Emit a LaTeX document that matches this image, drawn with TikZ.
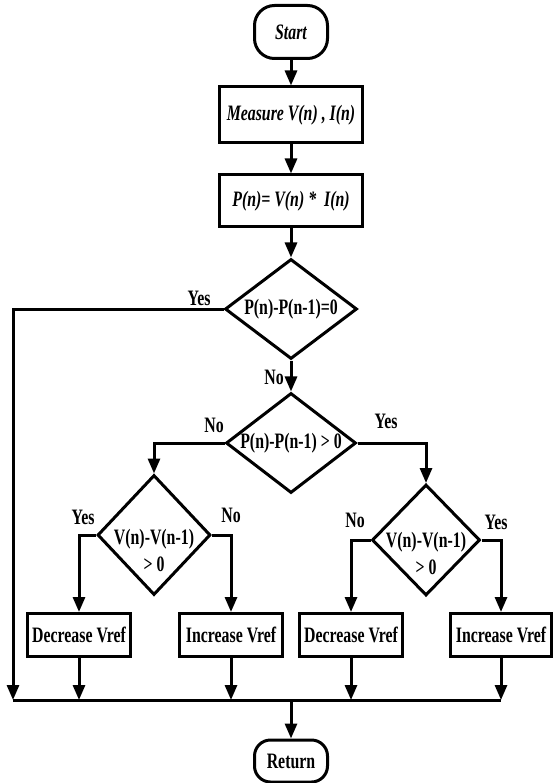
\documentclass[tikz,border=0pt]{standalone}
\usepackage{fontspec}
\setmainfont{Liberation Serif}[FakeStretch=0.72]
\usetikzlibrary{shapes.geometric,arrows.meta}

\tikzset{
  every node/.style={font=\fontsize{22}{27}\selectfont\bfseries},
  term/.style={draw, rounded corners=20pt, minimum width=73pt, minimum height=53pt, inner sep=0pt},
  proc/.style={draw, minimum width=143pt, inner sep=0pt},
  dec/.style={draw, diamond, aspect=1.3, inner sep=0pt},
  vbox/.style={draw, minimum width=103pt, minimum height=43pt, inner sep=0pt},
  lbl/.style={inner sep=0pt},
  arr/.style={-{Triangle[length=15pt,width=12pt]}}
}

\begin{document}
\begin{tikzpicture}[x=1pt,y=-1pt,line width=3pt]
\useasboundingbox (0,0) rectangle (553,783);
\node[term] (start) at (291,32) {\itshape Start};
\node[proc,minimum height=56pt] (meas) at (291,115) {\itshape Measure V(n) , I(n)};
\node[proc,minimum height=52pt] (pow) at (291,201) {\itshape P(n)= V(n) * \ I(n)};
\node[dec,minimum width=132pt,minimum height=100pt] (d1) at (291,309) {P(n)-P(n-1)=0};
\node[dec,minimum width=130pt,minimum height=100pt] (d2) at (291,443) {P(n)-P(n-1) > 0};
\node[dec,minimum width=113pt,minimum height=120pt,
  label={[name=d3txt,yshift=-15pt,align=center]center:{V(n)-V(n-1)\\> 0}}] (d3) at (154,535) {};
\node[dec,minimum width=108pt,minimum height=111pt,
  label={[name=d4txt,yshift=-13pt,align=center]center:{V(n)-V(n-1)\\> 0}}] (d4) at (426,540) {};
\node[vbox] (b1) at (79,635) {Decrease Vref};
\node[vbox] (b2) at (231,635) {Increase Vref};
\node[vbox] (b3) at (351,635) {Decrease Vref};
\node[vbox,minimum width=101pt] (b4) at (501,635) {Increase Vref};
\node[term,minimum height=42pt,rounded corners=16pt] (ret) at (291,761) {Return};
\coordinate (busL) at (13,700);
\coordinate (busR) at (b4.south |- busL);
% branch labels
\node[lbl] (yes1) at (199,298) {Yes};
\node[lbl] (no1) at (274,377) {No};
\node[lbl] (no2) at (214,425) {No};
\node[lbl] (yes2) at (386,421) {Yes};
\node[lbl] (yes3) at (83,517) {Yes};
\node[lbl] (no3) at (231,515) {No};
\node[lbl] (no4) at (355,520) {No};
\node[lbl] (yes4) at (496,522) {Yes};
% connectors
\draw[arr] (start) -- (meas);
\draw[arr] (meas) -- (pow);
\draw[arr] (pow) -- (d1);
\draw[arr] (d1.west) -| (busL);
\draw[arr] (d1) -- (d2);
\draw[arr] (d2.west) -| (d3.north);
\draw[arr] (d2.east) -| (d4.north);
\draw[arr] (d3.west) -| (b1.north);
\draw[arr] (d3.east) -| (b2.north);
\draw[arr] (d4.west) -| (b3.north);
\draw[arr] (d4.east) -| (b4.north);
\foreach \b in {b1,b2,b3,b4}
  \draw[arr] (\b) -- (\b.south |- busL);
\draw (busL) -- (busR);
\draw[arr] (ret.north |- busL) -- (ret);
\end{tikzpicture}
\end{document}
